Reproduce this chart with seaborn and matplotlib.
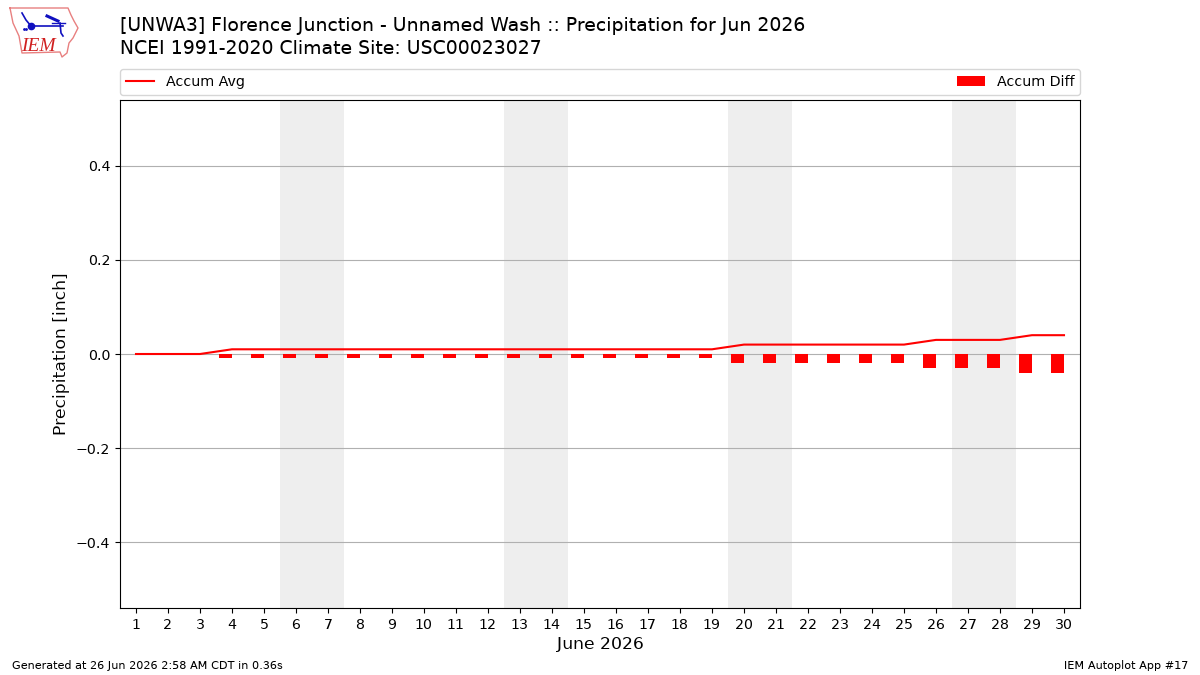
import matplotlib
matplotlib.use('Agg')
import matplotlib.pyplot as plt
import pandas as pd
import seaborn as sns

# accumulated average and departure, inches
days = list(range(1, 31))
accum_avg = [0, 0, 0, 0.01, 0.01, 0.01, 0.01, 0.01, 0.01, 0.01,
             0.01, 0.01, 0.01, 0.01, 0.01, 0.01, 0.01, 0.01, 0.01, 0.02,
             0.02, 0.02, 0.02, 0.02, 0.02, 0.03, 0.03, 0.03, 0.04, 0.04]
accum_diff = [0, 0, 0, -0.009, -0.009, -0.009, -0.009, -0.009, -0.009, -0.009,
              -0.009, -0.009, -0.009, -0.009, -0.009, -0.009, -0.009, -0.009, -0.009, -0.019,
              -0.019, -0.019, -0.019, -0.019, -0.019, -0.03, -0.03, -0.03, -0.04, -0.04]
weekend_starts = [6, 13, 20, 27]

# iowa outline for the logo, in pixels of the figure
iowa_x = [10, 68, 71, 74, 78, 73, 69, 67, 62, 60, 22, 19, 13, 10]
iowa_y = [8, 8, 15, 21, 28, 38, 43, 53, 57, 52, 53, 36, 23, 8]

plt.rcParams['text.hinting'] = 'no_autohint'
plt.rcParams['text.hinting_factor'] = 8

df = pd.DataFrame({'day': days, 'avg': accum_avg, 'diff': accum_diff})

fig = plt.figure(figsize=(12, 6.75), dpi=100)
ax = fig.add_axes([120 / 1200, 67 / 675, 960 / 1200, 508 / 675])

for d in weekend_starts:
    ax.axvspan(d - 0.5, d + 1.5, color='#eeeeee', lw=0, zorder=0)

ax.bar(df['day'], df['diff'], width=-0.4, align='edge', color='red', label='Accum Diff', zorder=3)
sns.lineplot(data=df, x='day', y='avg', color='red', lw=1.5, label='Accum Avg', ax=ax, zorder=4)

ax.set_xlim(0.5, 30.5)
ax.set_ylim(-0.54, 0.54)
ax.set_xticks(days)
ax.set_yticks([-0.4, -0.2, 0, 0.2, 0.4])
ax.tick_params(labelsize=10.2)
ax.grid(True, axis='y', color='#b0b0b0', lw=0.8)
ax.set_axisbelow(True)
ax.set_xlabel('June 2026', fontsize=12.4, labelpad=3)
ax.set_ylabel('Precipitation [inch]', fontsize=12.4)

ax.legend(bbox_to_anchor=(0, 1.01, 1, 0.06), loc='lower left', mode='expand', ncol=2,
          borderaxespad=0, fontsize=10.3)

fig.text(120 / 1200, 1 - 31 / 675, '[UNWA3] Florence Junction - Unnamed Wash :: Precipitation for Jun 2026',
         fontsize=13.6, va='baseline')
fig.text(120 / 1200, 1 - 54 / 675, 'NCEI 1991-2020 Climate Site: USC00023027', fontsize=13.6, va='baseline')
fig.text(12 / 1200, 1 - 669 / 675, 'Generated at 26 Jun 2026 2:58 AM CDT in 0.36s', fontsize=8.1)
fig.text(1188 / 1200, 1 - 669 / 675, 'IEM Autoplot App #17', fontsize=8.1, ha='right')

# logo drawn in a small axes with pixel coordinates
logo = fig.add_axes([0, 1 - 60 / 675, 85 / 1200, 60 / 675])
logo.set_xlim(0, 85)
logo.set_ylim(60, 0)
logo.axis('off')
logo.plot(iowa_x, iowa_y, color='#e88080', lw=1)
logo.plot([22, 26, 31, 63], [13, 20, 26, 26], color='#1010c0', lw=1.2)
logo.plot([47, 58], [16, 21], color='#1010c0', lw=2.2)
logo.plot([52, 65], [23, 23], color='#1010c0', lw=1)
logo.plot([60, 61, 63], [23, 33, 36], color='#1010c0', lw=1.2)
logo.plot([31], [26], 'o', color='#1010c0', ms=4.5)
logo.plot([24, 26], [29, 29], '.', color='#1010c0', ms=2)
logo.text(21, 51, 'IEM', color='#d02020', family='Liberation Serif', style='italic', fontsize=14)

fig.savefig('out.png', dpi=100)
